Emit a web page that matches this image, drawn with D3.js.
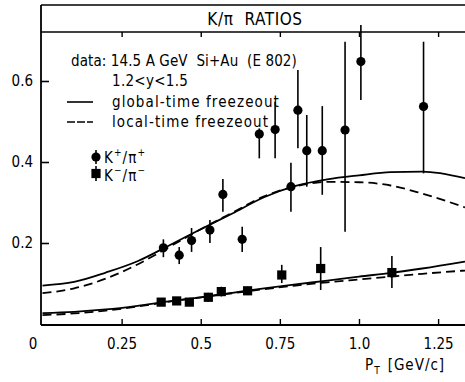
<!DOCTYPE html>
<html><head><meta charset="utf-8">
<script src="https://cdn.jsdelivr.net/npm/d3@7"></script>
<style>
html,body{margin:0;padding:0;background:#fff;}
svg text{font-family:"DejaVu Sans Condensed","Liberation Sans Narrow","Arial Narrow",sans-serif;fill:#000;}
</style></head>
<body><svg id="chart" width="465" height="382"></svg>
<script>
// ---- data ----
const xTicks = [0, 0.25, 0.5, 0.75, 1.0, 1.25];
const xTickLabels = ["0", "0.25", "0.5", "0.75", "1.0", "1.25"];
const yTicks = [0.2, 0.4, 0.6];
const yTickLabels = ["0.2", "0.4", "0.6"];

// K+/pi+ data (circles)
const kpX  = [0.382, 0.432, 0.471, 0.529, 0.570, 0.631, 0.685, 0.735, 0.785, 0.807, 0.835, 0.884, 0.956, 1.006, 1.204];
const kpY  = [0.188, 0.170, 0.206, 0.232, 0.320, 0.209, 0.469, 0.480, 0.339, 0.528, 0.428, 0.428, 0.479, 0.648, 0.537];
const kpLo = [0.165, 0.148, 0.178, 0.200, 0.277, 0.178, 0.409, 0.409, 0.277, 0.434, 0.339, 0.319, 0.228, 0.553, 0.372];
const kpHi = [0.209, 0.190, 0.237, 0.257, 0.358, 0.240, 0.483, 0.549, 0.398, 0.627, 0.516, 0.538, 0.697, 0.738, 0.697];

// K-/pi- data (squares)
const kmX  = [0.375, 0.424, 0.464, 0.524, 0.565, 0.648, 0.756, 0.879, 1.104];
const kmY  = [0.054, 0.057, 0.054, 0.066, 0.080, 0.082, 0.121, 0.137, 0.127];
const kmLo = [0.050, 0.053, 0.050, 0.055, 0.068, 0.072, 0.101, 0.084, 0.089];
const kmHi = [0.058, 0.061, 0.058, 0.077, 0.092, 0.092, 0.146, 0.190, 0.168];

// model curves
const curveX      = [0, 0.1, 0.2, 0.3, 0.4, 0.5, 0.6, 0.7, 0.8, 0.9, 1.0, 1.1, 1.2, 1.335];
const kpGlobal    = [0.095, 0.104, 0.127, 0.155, 0.194, 0.234, 0.273, 0.313, 0.341, 0.357, 0.367, 0.375, 0.376, 0.360];
const kpLocal     = [0.076, 0.088, 0.112, 0.147, 0.190, 0.234, 0.275, 0.315, 0.340, 0.351, 0.350, 0.342, 0.322, 0.288];
const kmGlobal    = [0.027, 0.030, 0.036, 0.045, 0.056, 0.066, 0.077, 0.088, 0.098, 0.107, 0.117, 0.126, 0.137, 0.154];
const kmLocal     = [0.022, 0.026, 0.033, 0.043, 0.055, 0.066, 0.076, 0.086, 0.095, 0.103, 0.110, 0.117, 0.124, 0.132];

// ---- drawing ----
const svg = d3.select("#chart");
const x = d3.scaleLinear().domain([0, 1.335]).range([42.5, 465]);
const y = d3.scaleLinear().domain([0, 0.72]).range([324, 32.4]);
const top0 = 5, left = 41, bottom = 325;

svg.append("defs").append("clipPath").attr("id","plot")
  .append("rect").attr("x", left).attr("y", 32.4).attr("width", 465-left).attr("height", bottom-32.4);

const line = d3.line().curve(d3.curveMonotoneX);
function drawCurve(ys, dashed){
  svg.append("path")
    .attr("clip-path","url(#plot)")
    .attr("d", line(curveX.map((v,i)=>[x(v), y(ys[i])])))
    .attr("fill","none").attr("stroke","#000").attr("stroke-width",1.8)
    .attr("stroke-dasharray", dashed ? "9,5" : null);
}
drawCurve(kpGlobal,false);
drawCurve(kpLocal,true);
drawCurve(kmGlobal,false);
drawCurve(kmLocal,true);

// frame
const frame = svg.append("g").attr("stroke","#000").attr("fill","none");
frame.append("line").attr("x1",left).attr("x2",465).attr("y1",top0).attr("y2",top0).attr("stroke-width",1.6);
frame.append("line").attr("x1",left).attr("x2",465).attr("y1",32).attr("y2",32).attr("stroke-width",1.6);
frame.append("line").attr("x1",left).attr("x2",left).attr("y1",top0).attr("y2",bottom).attr("stroke-width",1.8);
frame.append("line").attr("x1",left).attr("x2",465).attr("y1",bottom).attr("y2",bottom).attr("stroke-width",1.8);

// axes via d3 axis
const xAxis = svg.append("g").attr("transform",`translate(0,${bottom})`)
  .call(d3.axisBottom(x).tickValues(xTicks).tickSize(-6).tickFormat((d,i)=>xTickLabels[i]).tickPadding(13));
xAxis.select(".domain").remove();
xAxis.selectAll(".tick line").attr("stroke-width",1.4).filter(d=>d===0).remove();
xAxis.selectAll("text").attr("font-size",15).attr("fill","#000");
xAxis.selectAll(".tick").filter(d=>d===0).select("text").attr("dx",-10);

const xTop = svg.append("g").attr("transform",`translate(0,32)`)
  .call(d3.axisBottom(x).tickValues(xTicks.filter(d=>d>0)).tickSize(5).tickFormat(""));
xTop.select(".domain").remove();
xTop.selectAll(".tick line").attr("stroke-width",1.4);

const yAxis = svg.append("g").attr("transform",`translate(${left},0)`)
  .call(d3.axisLeft(y).tickValues(yTicks).tickSize(-8).tickFormat((d,i)=>yTickLabels[i]).tickPadding(8));
yAxis.select(".domain").remove();
yAxis.selectAll(".tick line").attr("stroke-width",1.6);
yAxis.selectAll("text").attr("font-size",15).attr("fill","#000");

// title
svg.append("text").attr("x",255).attr("y",25).attr("text-anchor","middle")
  .attr("font-size",17).attr("letter-spacing",0.6).style("white-space","pre").text("K/\u03C0  RATIOS");

// x label
const xl = svg.append("text").attr("x",365).attr("y",370).attr("font-size",15).attr("letter-spacing",1);
xl.append("tspan").text("P");
xl.append("tspan").attr("font-size",10).attr("dy",4).text("T");
xl.append("tspan").attr("dy",-4).attr("dx",7).text("[GeV/c]");

// error bars + markers
function drawData(xs, ys, lo, hi, shape){
  xs.forEach((v,i)=>{
    svg.append("line").attr("x1",x(v)).attr("x2",x(v)).attr("y1",y(lo[i])).attr("y2",y(hi[i]))
      .attr("stroke","#000").attr("stroke-width",1.6);
    if(shape==="circle"){
      svg.append("circle").attr("cx",x(v)).attr("cy",y(ys[i])).attr("r",4.6).attr("fill","#000");
    } else {
      svg.append("rect").attr("x",x(v)-4.6).attr("y",y(ys[i])-4.6).attr("width",9.2).attr("height",9.2).attr("fill","#000");
    }
  });
}
drawData(kpX,kpY,kpLo,kpHi,"circle");
drawData(kmX,kmY,kmLo,kmHi,"square");

// legend
const lg = svg.append("g").attr("font-size",15).attr("letter-spacing",1.1);
lg.append("text").attr("x",71).attr("y",66).attr("letter-spacing",0.1).text("data: 14.5 A GeV  Si+Au  (E 802)").style("white-space","pre");
lg.append("text").attr("x",112).attr("y",86).attr("letter-spacing",0.3).text("1.2<y<1.5");
lg.append("line").attr("x1",67).attr("x2",93).attr("y1",102).attr("y2",102).attr("stroke","#000").attr("stroke-width",1.6);
lg.append("text").attr("x",112).attr("y",107).text("global-time freezeout");
lg.append("line").attr("x1",67).attr("x2",93).attr("y1",122).attr("y2",122).attr("stroke","#000").attr("stroke-width",1.6).attr("stroke-dasharray","8,2");
lg.append("text").attr("x",112).attr("y",127).text("local-time freezeout");
// marker legend
lg.append("line").attr("x1",96).attr("x2",96).attr("y1",150).attr("y2",164).attr("stroke","#000").attr("stroke-width",1.6);
lg.append("circle").attr("cx",96).attr("cy",157).attr("r",4.6).attr("fill","#000");
const t1 = lg.append("text").attr("x",104).attr("y",163).attr("font-size",15);
t1.append("tspan").text("K");
t1.append("tspan").attr("font-size",10).attr("dy",-7).text("+");
t1.append("tspan").attr("dy",7).text("/\u03C0");
t1.append("tspan").attr("font-size",10).attr("dy",-7).text("+");
lg.append("line").attr("x1",96).attr("x2",96).attr("y1",166).attr("y2",181).attr("stroke","#000").attr("stroke-width",1.6);
lg.append("rect").attr("x",91.4).attr("y",168.9).attr("width",9.2).attr("height",9.2).attr("fill","#000");
const t2 = lg.append("text").attr("x",104).attr("y",181).attr("font-size",15);
t2.append("tspan").text("K");
t2.append("tspan").attr("font-size",10).attr("dy",-7).text("\u2212");
t2.append("tspan").attr("dy",7).text("/\u03C0");
t2.append("tspan").attr("font-size",10).attr("dy",-7).text("\u2212");
</script></body></html>
